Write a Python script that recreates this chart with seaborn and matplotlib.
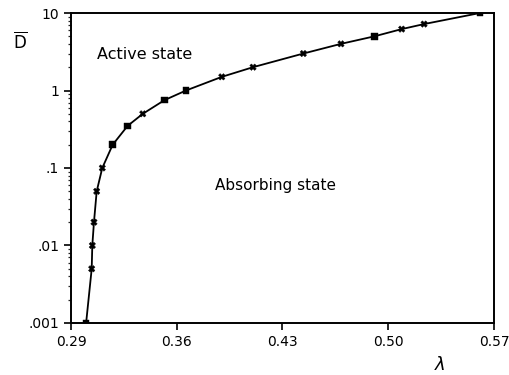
import seaborn as sns
import matplotlib.pyplot as plt
import pandas as pd
from matplotlib.ticker import FixedLocator, FixedFormatter, LogLocator, NullFormatter

# lambda vs order parameter D
lam = [0.300, 0.3037, 0.3041, 0.3052, 0.307, 0.3107, 0.3176, 0.3275, 0.3375,
       0.3518, 0.3661, 0.3898, 0.4105, 0.4438, 0.4687, 0.4908, 0.5089, 0.5237, 0.5607]
dens = [0.001, 0.005, 0.01, 0.02, 0.05, 0.1, 0.2, 0.35, 0.5,
        0.75, 1.0, 1.5, 2.0, 3.0, 4.0, 5.0, 6.2, 7.2, 10.0]
mark = ['s', 'x', 'x', 'x', 'x', 'x', 's', 's', 'x',
        's', 's', 'x', 'x', 'x', 'x', 's', 'x', 'x', 's']

xticks = [0.29, 0.36, 0.43, 0.50, 0.57]
xlabels = ['0.29', '0.36', '0.43', '0.50', '0.57']
yticks = [0.001, 0.01, 0.1, 1, 10]
ylabels = ['.001', '.01', '.1', '1', '10']

df = pd.DataFrame({'lam': lam, 'D': dens, 'mark': mark})

sns.set_style('ticks')
plt.rcParams['font.family'] = ['DejaVu Sans']
plt.rcParams['mathtext.fontset'] = 'dejavusans'
plt.rcParams['text.color'] = 'black'

fig = plt.figure(figsize=(5.09, 3.75), dpi=100)
ax = fig.add_axes([0.1395, 0.1387, 0.831, 0.8266])

sns.lineplot(data=df, x='lam', y='D', color='black', lw=1.3, ax=ax, sort=False)
sns.scatterplot(data=df, x='lam', y='D', style='mark', markers={'s': 's', 'x': 'X'},
                color='black', s=22, edgecolor='black', linewidth=0.3, ax=ax, legend=False)

ax.set_yscale('log')
ax.set_xlim(0.29, 0.57)
ax.set_ylim(0.001, 10)

ax.xaxis.set_major_locator(FixedLocator(xticks))
ax.xaxis.set_major_formatter(FixedFormatter(xlabels))
ax.yaxis.set_major_locator(FixedLocator(yticks))
ax.yaxis.set_major_formatter(FixedFormatter(ylabels))
ax.yaxis.set_minor_locator(LogLocator(base=10, subs=range(2, 10)))
ax.yaxis.set_minor_formatter(NullFormatter())

ax.tick_params(axis='both', which='major', direction='out', length=5, width=1.2,
               labelsize=10, color='black', labelcolor='black')
ax.tick_params(axis='y', which='minor', direction='out', length=2.5, width=0.9)
for sp in ax.spines.values():
    sp.set_visible(True)
    sp.set_linewidth(1.4)
    sp.set_color('black')

ax.set_xlabel('')
ax.set_ylabel('')
fig.text(0.04, 0.89, r'$\overline{\mathrm{D}}$', fontsize=12, ha='center', va='center')
fig.text(0.865, 0.027, r'$\lambda$', fontsize=13, ha='center', va='center')

ax.text(0.307, 2.9, 'Active state', fontsize=11.5, ha='left', va='center')
ax.text(0.3853, 0.06, 'Absorbing state', fontsize=11, ha='left', va='center')

fig.savefig('out.png', dpi=100)
